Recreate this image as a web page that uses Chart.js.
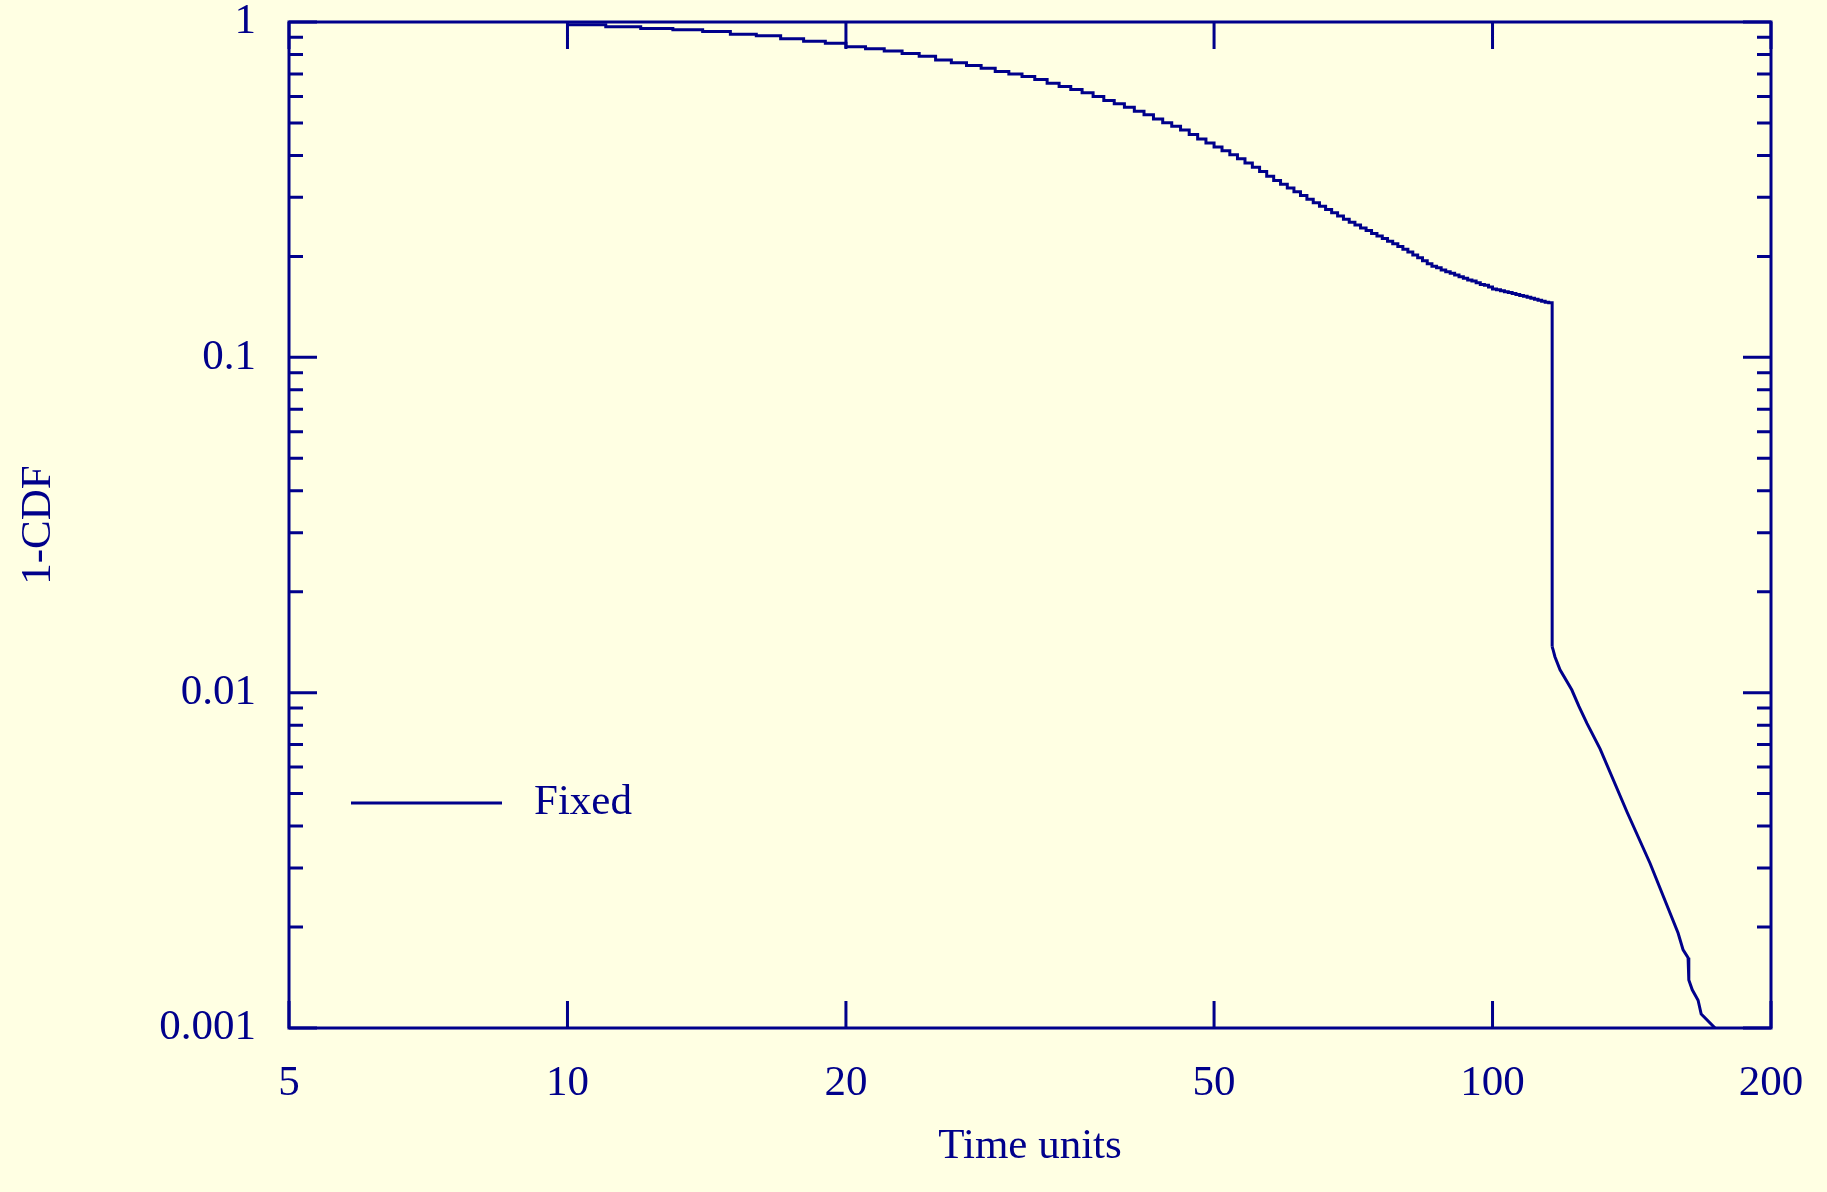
<!DOCTYPE html>
<html>
<head>
<meta charset="utf-8">
<title>1-CDF</title>
<script src="https://cdn.jsdelivr.net/npm/chart.js@4.4.1/dist/chart.umd.min.js"></script>
<style>
  html, body { margin: 0; padding: 0; background: #ffffe3; }
  canvas { display: block; }
</style>
</head>
<body>
<canvas id="myChart" width="1827" height="1192"></canvas>
<script>
// empirical 1-CDF, integer time steps up to the big drop
const stepTimes = [10, 11, 12, 13, 14, 15, 16, 17, 18, 19, 20, 21, 22, 23, 24, 25, 26, 27, 28, 29,
    30, 31, 32, 33, 34, 35, 36, 37, 38, 39, 40, 41, 42, 43, 44, 45, 46, 47, 48, 49,
    50, 51, 52, 53, 54, 55, 56, 57, 58, 59, 60, 61, 62, 63, 64, 65, 66, 67, 68, 69,
    70, 71, 72, 73, 74, 75, 76, 77, 78, 79, 80, 81, 82, 83, 84, 85, 86, 87, 88, 89,
    90, 91, 92, 93, 94, 95, 96, 97, 98, 99, 100, 101, 102, 103, 104, 105, 106, 107, 108, 109,
    110, 111, 112, 113, 114, 115, 116];
const stepValues = [0.981, 0.968, 0.956, 0.948, 0.937, 0.920, 0.910, 0.891, 0.876, 0.864,
    0.843, 0.832, 0.820, 0.806, 0.791, 0.770, 0.756, 0.742, 0.728, 0.712,
    0.700, 0.688, 0.674, 0.657, 0.642, 0.629, 0.615, 0.600, 0.583, 0.570,
    0.557, 0.542, 0.529, 0.514, 0.501, 0.489, 0.476, 0.462, 0.448, 0.436,
    0.424, 0.413, 0.402, 0.391, 0.380, 0.369, 0.358, 0.347, 0.337, 0.328,
    0.320, 0.312, 0.304, 0.296, 0.289, 0.282, 0.276, 0.270, 0.264, 0.258,
    0.253, 0.248, 0.243, 0.239, 0.234, 0.230, 0.226, 0.222, 0.218, 0.214,
    0.210, 0.206, 0.202, 0.198, 0.194, 0.190, 0.187, 0.185, 0.182, 0.180,
    0.178, 0.176, 0.174, 0.172, 0.170, 0.169, 0.167, 0.165, 0.164, 0.162,
    0.160, 0.159, 0.158, 0.157, 0.156, 0.155, 0.154, 0.153, 0.152, 0.151,
    0.150, 0.149, 0.148, 0.147, 0.146, 0.1455, 0.0137];
// tail after the drop (drawn as a plain line)
const tailTimes = [116.3, 116.8, 118.3, 121.8, 124.0, 126.5, 130.7, 139.8, 148.0,
    158.7, 160.7, 162.7, 163.0, 164.4, 166.8, 168.1, 174.0];
const tailValues = [0.0134, 0.0128, 0.0117, 0.0102, 0.0091, 0.0081, 0.0068, 0.0044, 0.0031,
    0.00192, 0.00171, 0.00162, 0.00139, 0.0013, 0.00121, 0.0011, 0.001];
const xTicks = [5, 10, 20, 50, 100, 200];
const yTicks = [0.001, 0.01, 0.1, 1];
const seriesLabel = 'Fixed';

const NAVY = '#00008b';
const FONT = { family: '"Liberation Serif", "Times New Roman", serif', size: 43, lineHeight: 1 };

(() => {
    const ctx = document.getElementById('myChart').getContext('2d');

    // box around the plot plus inward tick marks
    const framePlugin = {
        id: 'frame',
        afterDatasetsDraw(chart) {
            const { ctx, chartArea: a, scales: { x, y } } = chart;
            ctx.save();
            ctx.strokeStyle = NAVY;
            ctx.lineWidth = 3;
            ctx.strokeRect(a.left, a.top, a.right - a.left, a.bottom - a.top);
            ctx.beginPath();
            xTicks.forEach(v => {
                const px = x.getPixelForValue(v);
                ctx.moveTo(px, a.bottom); ctx.lineTo(px, a.bottom - 27);
                ctx.moveTo(px, a.top); ctx.lineTo(px, a.top + 27);
            });
            yTicks.forEach((v, i) => {
                const py = y.getPixelForValue(v);
                ctx.moveTo(a.left, py); ctx.lineTo(a.left + 28, py);
                ctx.moveTo(a.right, py); ctx.lineTo(a.right - 28, py);
                if (i === yTicks.length - 1) return;
                for (let m = 2; m <= 9; m++) {
                    const pm = y.getPixelForValue(v * m);
                    ctx.moveTo(a.left, pm); ctx.lineTo(a.left + 14, pm);
                    ctx.moveTo(a.right, pm); ctx.lineTo(a.right - 14, pm);
                }
            });
            ctx.stroke();
            ctx.restore();
        }
    };

    // legend sits inside the plot, lower left
    const legendPlugin = {
        id: 'insideLegend',
        afterDraw(chart) {
            const { ctx, chartArea: a } = chart;
            const ly = 803;
            ctx.save();
            ctx.strokeStyle = NAVY;
            ctx.lineWidth = 3;
            ctx.beginPath();
            ctx.moveTo(a.left + 62, ly);
            ctx.lineTo(a.left + 213, ly);
            ctx.stroke();
            ctx.fillStyle = NAVY;
            ctx.font = `${FONT.size}px ${FONT.family}`;
            ctx.textBaseline = 'middle';
            ctx.fillText(chart.data.datasets[0].label, a.left + 245, ly);
            ctx.restore();
        }
    };

    const stepPoints = stepTimes.map((t, i) => ({ x: t, y: stepValues[i] }));
    const tailPoints = [stepPoints[stepPoints.length - 1]]
        .concat(tailTimes.map((t, i) => ({ x: t, y: tailValues[i] })));

    new Chart(ctx, {
        type: 'line',
        data: {
            datasets: [{
                label: seriesLabel,
                data: stepPoints,
                stepped: 'before',
                borderColor: NAVY,
                borderWidth: 3,
                pointRadius: 0,
                fill: false
            }, {
                label: seriesLabel + ' (tail)',
                data: tailPoints,
                borderColor: NAVY,
                borderWidth: 3,
                pointRadius: 0,
                tension: 0,
                fill: false
            }]
        },
        options: {
            responsive: false,
            animation: false,
            events: [],
            layout: { padding: { top: 22, right: 56, left: 0, bottom: 0 } },
            plugins: { legend: { display: false }, tooltip: { enabled: false } },
            scales: {
                x: {
                    type: 'logarithmic',
                    min: 5,
                    max: 200,
                    afterBuildTicks: s => { s.ticks = xTicks.map(v => ({ value: v })); },
                    afterFit: s => {
                        s.height = 164;
                        s.paddingLeft = 0;
                        s.paddingRight = 0;
                    },
                    grid: { display: false, drawTicks: false },
                    border: { display: false },
                    ticks: {
                        color: NAVY, font: FONT, padding: 34, maxRotation: 0, autoSkip: false,
                        callback: v => String(v)
                    },
                    title: {
                        display: true, text: 'Time units', color: NAVY, font: FONT,
                        padding: { top: 0, bottom: 24 }
                    }
                },
                y: {
                    type: 'logarithmic',
                    min: 0.001,
                    max: 1,
                    afterBuildTicks: s => { s.ticks = yTicks.map(v => ({ value: v })); },
                    afterFit: s => {
                        s.width = 289;
                        s.paddingTop = 0;
                        s.paddingBottom = 0;
                    },
                    grid: { display: false, drawTicks: false },
                    border: { display: false },
                    ticks: {
                        color: NAVY, font: FONT, padding: 33, autoSkip: false,
                        callback: v => String(v)
                    },
                    title: {
                        display: true, text: '1-CDF', color: NAVY, font: FONT,
                        padding: { top: 17, bottom: 0 }
                    }
                }
            }
        },
        plugins: [framePlugin, legendPlugin]
    });
})();
</script>
</body>
</html>
